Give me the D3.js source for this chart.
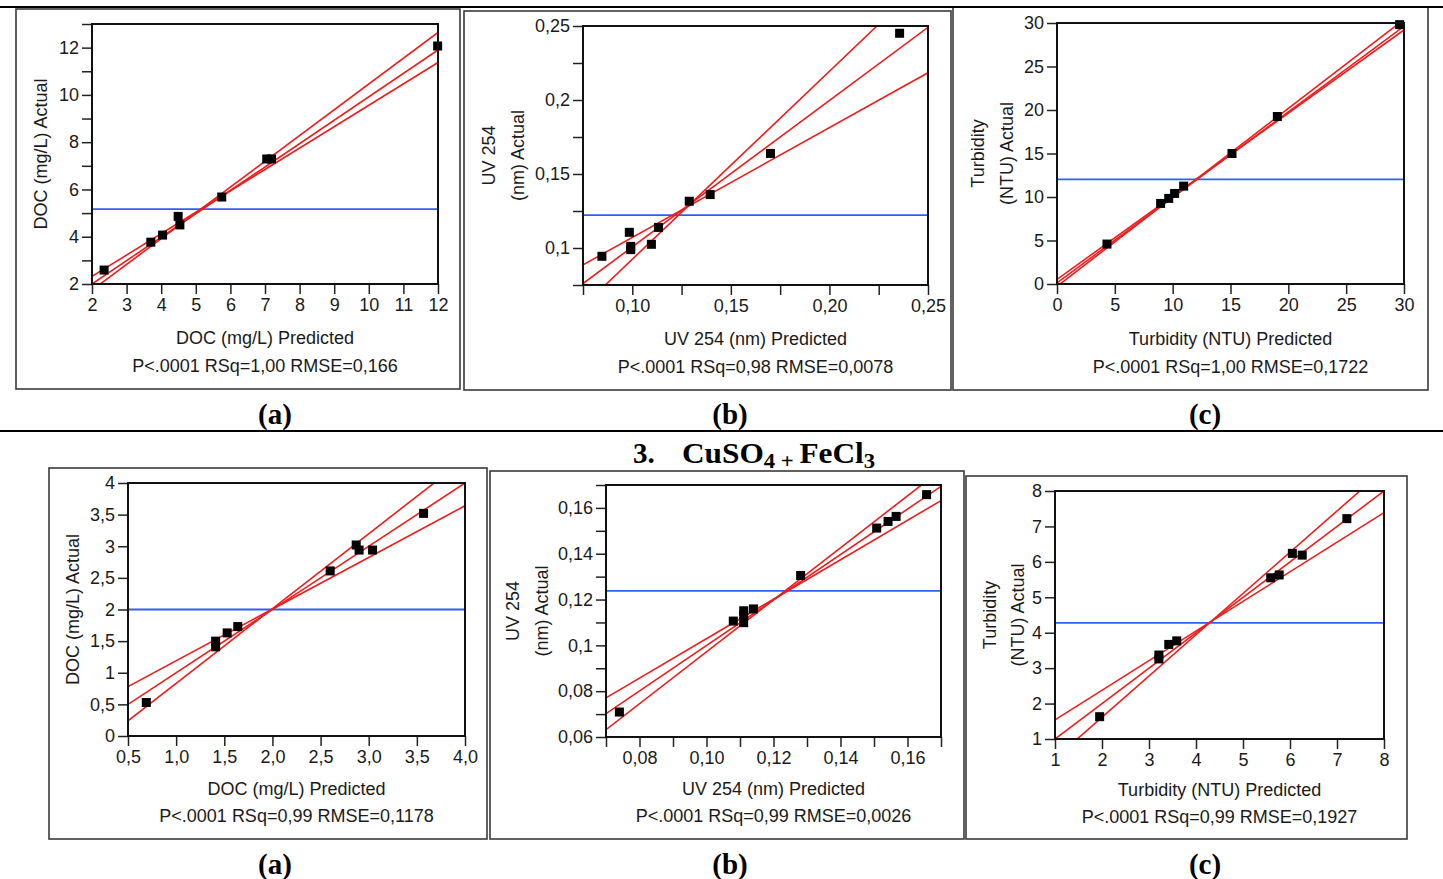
<!DOCTYPE html>
<html>
<head>
<meta charset="utf-8">
<script src="https://cdn.jsdelivr.net/npm/d3@7"></script>
<style>
  html, body { margin: 0; padding: 0; background: #fff; }
  svg { display: block; }
  text { font-family: "Liberation Sans", Arial, sans-serif; fill: #1a1a1a; }
  .serif { font-family: "Liberation Serif", "Times New Roman", serif; font-weight: bold; fill: #000; }
</style>
</head>
<body>
<svg id="chart" width="1443" height="879"></svg>
<script>
// ---------------- DATA ----------------
// Top row (a): DOC
const docTopPredicted = [2.35, 3.70, 4.04, 4.49, 4.54, 5.75, 7.05, 7.19, 11.99];
const docTopActual    = [2.59, 3.77, 4.07, 4.86, 4.50, 5.68, 7.29, 7.29, 12.07];
const docTopMean = 5.17;
const docTopLines = [[2, 2.32, 12, 11.37], [2, 2.00, 12, 11.90], [2, 1.74, 12, 12.64]];
const docTopXTicks = [2, 3, 4, 5, 6, 7, 8, 9, 10, 11, 12];
const docTopXLabels = ["2", "3", "4", "5", "6", "7", "8", "9", "10", "11", "12"];
const docTopYTicks = [2, 4, 6, 8, 10, 12];
const docTopYLabels = ["2", "4", "6", "8", "10", "12"];
const docTopYMinor = [3, 5, 7, 9, 11, 13];
const docTopStats = "P<.0001 RSq=1,00 RMSE=0,166";

// Top row (b): UV 254
const uvTopPredicted = [0.0846, 0.0985, 0.0992, 0.0992, 0.1097, 0.1133, 0.1289, 0.1395, 0.1701, 0.2356];
const uvTopActual    = [0.0944, 0.1106, 0.1011, 0.0989, 0.1025, 0.1139, 0.1316, 0.1361, 0.1639, 0.2451];
const uvTopMean = 0.1222;
const uvTopLines = [[0.075, 0.0886, 0.25, 0.2184], [0.075, 0.0760, 0.25, 0.2491], [0.0863, 0.075, 0.2241, 0.25]];
const uvTopXTicks = [0.10, 0.15, 0.20, 0.25];
const uvTopXLabels = ["0,10", "0,15", "0,20", "0,25"];
const uvTopXMinor = [0.075, 0.125, 0.175, 0.225];
const uvTopYTicks = [0.10, 0.15, 0.20, 0.25];
const uvTopYLabels = ["0,1", "0,15", "0,2", "0,25"];
const uvTopYMinor = [0.075, 0.125, 0.175, 0.225];
const uvTopStats = "P<.0001 RSq=0,98 RMSE=0,0078";

// Top row (c): Turbidity
const turbTopPredicted = [4.32, 8.96, 9.66, 10.17, 10.95, 15.13, 19.05, 29.62];
const turbTopActual    = [4.59, 9.26, 9.84, 10.41, 11.25, 15.00, 19.25, 29.81];
const turbTopMean = 12.02;
const turbTopLines = [[0, 0.53, 30, 29.20], [0, 0.12, 30, 29.62], [0, -0.27, 30, 30.40]];
const turbTopXTicks = [0, 5, 10, 15, 20, 25, 30];
const turbTopXLabels = ["0", "5", "10", "15", "20", "25", "30"];
const turbTopYTicks = [0, 5, 10, 15, 20, 25, 30];
const turbTopYLabels = ["0", "5", "10", "15", "20", "25", "30"];
const turbTopStats = "P<.0001 RSq=1,00 RMSE=0,1722";

// Bottom row (a): DOC, CuSO4 + FeCl3
const docBotPredicted = [0.69, 1.41, 1.41, 1.53, 1.64, 2.60, 2.87, 2.90, 3.04, 3.57];
const docBotActual    = [0.53, 1.50, 1.41, 1.63, 1.73, 2.61, 3.02, 2.94, 2.94, 3.52];
const docBotMean = 2.0;
const docBotLines = [[0.5, 0.78, 4.0, 3.64], [0.5, 0.50, 4.0, 4.00], [0.5, 0.24, 4.0, 4.38]];
const docBotXTicks = [0.5, 1.0, 1.5, 2.0, 2.5, 3.0, 3.5, 4.0];
const docBotXLabels = ["0,5", "1,0", "1,5", "2,0", "2,5", "3,0", "3,5", "4,0"];
const docBotYTicks = [0, 0.5, 1, 1.5, 2, 2.5, 3, 3.5, 4];
const docBotYLabels = ["0", "0,5", "1", "1,5", "2", "2,5", "3", "3,5", "4"];
const docBotStats = "P<.0001 RSq=0,99 RMSE=0,1178";

// Bottom row (b): UV 254, CuSO4 + FeCl3
const uvBotPredicted = [0.0740, 0.1080, 0.1111, 0.1111, 0.1111, 0.1140, 0.1281, 0.1508, 0.1542, 0.1566, 0.1657];
const uvBotActual    = [0.0709, 0.1106, 0.1151, 0.1130, 0.1099, 0.1159, 0.1305, 0.1512, 0.1541, 0.1563, 0.1658];
const uvBotMean = 0.1238;
const uvBotLines = [[0.07, 0.0771, 0.17, 0.1632], [0.07, 0.0702, 0.17, 0.1694], [0.07, 0.0632, 0.17, 0.1766]];
const uvBotXTicks = [0.08, 0.10, 0.12, 0.14, 0.16];
const uvBotXLabels = ["0,08", "0,10", "0,12", "0,14", "0,16"];
const uvBotXMinor = [0.07, 0.09, 0.11, 0.13, 0.15, 0.17];
const uvBotYTicks = [0.06, 0.08, 0.10, 0.12, 0.14, 0.16];
const uvBotYLabels = ["0,06", "0,08", "0,1", "0,12", "0,14", "0,16"];
const uvBotYMinor = [0.07, 0.09, 0.11, 0.13, 0.15, 0.17];
const uvBotStats = "P<.0001 RSq=0,99 RMSE=0,0026";

// Bottom row (c): Turbidity, CuSO4 + FeCl3
const turbBotPredicted = [1.95, 3.21, 3.21, 3.42, 3.59, 5.59, 5.77, 6.05, 6.26, 7.21];
const turbBotActual    = [1.63, 3.37, 3.26, 3.67, 3.77, 5.55, 5.63, 6.24, 6.19, 7.22];
const turbBotMean = 4.28;
const turbBotLines = [[1, 1.54, 8, 7.39], [1, 1.00, 8, 8.00], [1, 0.45, 8, 8.60]];
const turbBotXTicks = [1, 2, 3, 4, 5, 6, 7, 8];
const turbBotXLabels = ["1", "2", "3", "4", "5", "6", "7", "8"];
const turbBotYTicks = [1, 2, 3, 4, 5, 6, 7, 8];
const turbBotYLabels = ["1", "2", "3", "4", "5", "6", "7", "8"];
const turbBotStats = "P<.0001 RSq=0,99 RMSE=0,1927";

const panelLetters = ["(a)", "(b)", "(c)"];

// ---------------- LAYOUT ----------------
const svg = d3.select("#chart");

const panels = [
  { box: [16, 9, 460, 389], plot: [92, 24, 438, 284], xd: [2, 12], yd: [2, 13],
    px: docTopPredicted, py: docTopActual, mean: docTopMean, lines: docTopLines,
    xt: docTopXTicks, xl: docTopXLabels, xm: [], yt: docTopYTicks, yl: docTopYLabels, ym: docTopYMinor,
    xTitle: "DOC (mg/L) Predicted", yTitle: ["DOC (mg/L) Actual"], yTitleX: [41], stats: docTopStats,
    xTitleY: 338, statsY: 366 },
  { box: [464, 11, 951, 390], plot: [583, 26, 928, 285], xd: [0.075, 0.25], yd: [0.075, 0.25],
    px: uvTopPredicted, py: uvTopActual, mean: uvTopMean, lines: uvTopLines,
    xt: uvTopXTicks, xl: uvTopXLabels, xm: uvTopXMinor, yt: uvTopYTicks, yl: uvTopYLabels, ym: uvTopYMinor,
    xTitle: "UV 254 (nm) Predicted", yTitle: ["UV 254", "(nm) Actual"], yTitleX: [489, 518], stats: uvTopStats,
    xTitleY: 339, statsY: 367 },
  { box: [953, 7, 1428, 390], plot: [1057, 23, 1404, 284], xd: [0, 30], yd: [0, 30],
    px: turbTopPredicted, py: turbTopActual, mean: turbTopMean, lines: turbTopLines,
    xt: turbTopXTicks, xl: turbTopXLabels, xm: [], yt: turbTopYTicks, yl: turbTopYLabels, ym: [],
    xTitle: "Turbidity (NTU) Predicted", yTitle: ["Turbidity", "(NTU) Actual"], yTitleX: [978, 1007], stats: turbTopStats,
    xTitleY: 339, statsY: 367 },
  { box: [49, 468, 487, 839], plot: [128, 483, 465, 736], xd: [0.5, 4], yd: [0, 4],
    px: docBotPredicted, py: docBotActual, mean: docBotMean, lines: docBotLines,
    xt: docBotXTicks, xl: docBotXLabels, xm: [], yt: docBotYTicks, yl: docBotYLabels, ym: [],
    xTitle: "DOC (mg/L) Predicted", yTitle: ["DOC (mg/L) Actual"], yTitleX: [73], stats: docBotStats,
    xTitleY: 789, statsY: 816 },
  { box: [490, 471, 964, 839], plot: [606, 485, 941, 737], xd: [0.07, 0.17], yd: [0.06, 0.17],
    px: uvBotPredicted, py: uvBotActual, mean: uvBotMean, lines: uvBotLines,
    xt: uvBotXTicks, xl: uvBotXLabels, xm: uvBotXMinor, yt: uvBotYTicks, yl: uvBotYLabels, ym: uvBotYMinor,
    xTitle: "UV 254 (nm) Predicted", yTitle: ["UV 254", "(nm) Actual"], yTitleX: [513, 542], stats: uvBotStats,
    xTitleY: 789, statsY: 816 },
  { box: [966, 476, 1407, 839], plot: [1055, 491, 1384, 739], xd: [1, 8], yd: [1, 8],
    px: turbBotPredicted, py: turbBotActual, mean: turbBotMean, lines: turbBotLines,
    xt: turbBotXTicks, xl: turbBotXLabels, xm: [], yt: turbBotYTicks, yl: turbBotYLabels, ym: [],
    xTitle: "Turbidity (NTU) Predicted", yTitle: ["Turbidity", "(NTU) Actual"], yTitleX: [990, 1018], stats: turbBotStats,
    xTitleY: 790, statsY: 817 }
];

const defs = svg.append("defs");

panels.forEach((p, i) => {
  const [bx0, by0, bx1, by1] = p.box;
  const [x0, y0, x1, y1] = p.plot;
  const g = svg.append("g");

  // outer panel frame
  g.append("rect").attr("x", bx0).attr("y", by0).attr("width", bx1 - bx0).attr("height", by1 - by0)
    .attr("fill", "none").attr("stroke", "#3a3a3a").attr("stroke-width", 1.6);

  const x = d3.scaleLinear().domain(p.xd).range([x0, x1]);
  const y = d3.scaleLinear().domain(p.yd).range([y1, y0]);

  const fmtX = v => p.xl[p.xt.indexOf(v)];
  const fmtY = v => p.yl[p.yt.indexOf(v)];

  const xAxis = d3.axisBottom(x).tickValues(p.xt).tickFormat(fmtX).tickSize(10).tickPadding(4);
  const yAxis = d3.axisLeft(y).tickValues(p.yt).tickFormat(fmtY).tickSize(10).tickPadding(3);

  g.append("g").attr("transform", `translate(0,${y1})`).call(xAxis);
  g.append("g").attr("transform", `translate(${x0},0)`).call(yAxis);
  if (p.xm.length) g.append("g").attr("transform", `translate(0,${y1})`)
      .call(d3.axisBottom(x).tickValues(p.xm).tickFormat("").tickSize(10));
  if (p.ym.length) g.append("g").attr("transform", `translate(${x0},0)`)
      .call(d3.axisLeft(y).tickValues(p.ym).tickFormat("").tickSize(10));

  g.selectAll(".domain").remove();
  g.selectAll(".tick line").attr("stroke", "#222").attr("stroke-width", 1.5);
  g.selectAll(".tick text").attr("font-size", 18).attr("fill", "#1a1a1a")
    .attr("font-family", '"Liberation Sans", Arial, sans-serif');

  const cid = "clip" + i;
  defs.append("clipPath").attr("id", cid).append("rect")
    .attr("x", x0).attr("y", y0).attr("width", x1 - x0).attr("height", y1 - y0);
  const pg = g.append("g").attr("clip-path", `url(#${cid})`);

  pg.append("line").attr("x1", x(p.xd[0])).attr("x2", x(p.xd[1]))
    .attr("y1", y(p.mean)).attr("y2", y(p.mean))
    .attr("stroke", "#2f5ff0").attr("stroke-width", 1.8);

  pg.selectAll(".fit").data(p.lines).enter().append("line")
    .attr("x1", d => x(d[0])).attr("y1", d => y(d[1]))
    .attr("x2", d => x(d[2])).attr("y2", d => y(d[3]))
    .attr("stroke", "#f01c1c").attr("stroke-width", 1.6);

  const s = 9;
  g.selectAll(".pt").data(p.px.map((v, k) => [v, p.py[k]])).enter().append("rect")
    .attr("x", d => x(d[0]) - s / 2).attr("y", d => y(d[1]) - s / 2)
    .attr("width", s).attr("height", s).attr("fill", "#000");

  g.append("rect").attr("x", x0).attr("y", y0).attr("width", x1 - x0).attr("height", y1 - y0)
    .attr("fill", "none").attr("stroke", "#111").attr("stroke-width", 2);

  const cx = (x0 + x1) / 2, cy = (y0 + y1) / 2;
  g.append("text").attr("x", cx).attr("y", p.xTitleY).attr("text-anchor", "middle")
    .attr("dominant-baseline", "central").attr("font-size", 18).text(p.xTitle);
  g.append("text").attr("x", cx).attr("y", p.statsY).attr("text-anchor", "middle")
    .attr("dominant-baseline", "central").attr("font-size", 18).text(p.stats);
  p.yTitle.forEach((t, k) => {
    g.append("text").attr("transform", `translate(${p.yTitleX[k]},${cy}) rotate(-90)`)
      .attr("text-anchor", "middle").attr("dominant-baseline", "central")
      .attr("font-size", 18).text(t);
  });

  const letterX = [275, 730, 1205][i % 3];
  const letterY = i < 3 ? 414 : 864;
  svg.append("text").attr("class", "serif").attr("x", letterX).attr("y", letterY)
    .attr("text-anchor", "middle").attr("dominant-baseline", "central")
    .attr("font-size", 29).text(panelLetters[i % 3]);
});

// horizontal rules
svg.append("line").attr("x1", 0).attr("x2", 1443).attr("y1", 7).attr("y2", 7)
  .attr("stroke", "#000").attr("stroke-width", 2);
svg.append("line").attr("x1", 0).attr("x2", 1443).attr("y1", 431).attr("y2", 431)
  .attr("stroke", "#000").attr("stroke-width", 2);

// section title
svg.append("text").attr("class", "serif").attr("x", 633).attr("y", 463)
  .attr("font-size", 29).text("3.");
const t = svg.append("text").attr("class", "serif")
  .attr("transform", "translate(682,463) scale(1.08,1)").attr("font-size", 29);
t.append("tspan").text("CuSO");
t.append("tspan").attr("font-size", 21).attr("dy", 5).text("4 + ");
t.append("tspan").attr("dy", -5).text("FeCl");
t.append("tspan").attr("font-size", 21).attr("dy", 5).text("3");
</script>
</body>
</html>
